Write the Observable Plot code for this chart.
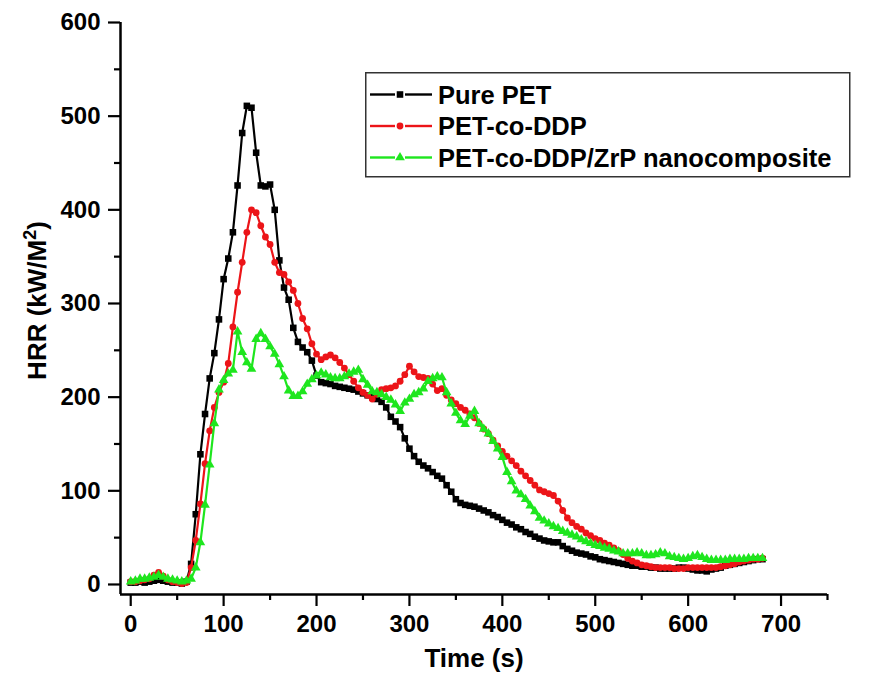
<!DOCTYPE html>
<html>
<head>
<meta charset="utf-8">
<script src="https://cdn.jsdelivr.net/npm/d3@7"></script>
<script src="https://cdn.jsdelivr.net/npm/@observablehq/plot@0.6"></script>
<style>
  html, body { margin: 0; padding: 0; background: white; }
  #wrap { position: relative; width: 885px; height: 675px; font-family: "Liberation Sans", Arial, sans-serif; }
  #legend { position: absolute; left: 365px; top: 72px; }
</style>
</head>
<body>
<div id="wrap"></div>
<script>
// Sample times (s), every 5 s
const time = d3.range(0, 681, 5);

const purePET = [
  2,2,3,2,3,4,5,4,3,2,
  2,1,3,22,75,139,182,220,247,283,
  326,348,376,426,482,511,509,461,426,425,
  427,400,346,317,304,274,259,253,248,239,
  223,216,215,214,212,211,210,209,208,206,
  204,202,200,198,195,189,179,174,168,156,
  145,137,131,127,124,120,116,113,106,99,
  91,87,85,84,83,81,79,77,74,72,
  69,66,64,61,59,56,54,51,49,47,
  46,45,45,41,38,36,34,33,32,30,
  29,27,26,25,24,23,22,21,20,20,
  19,19,18,18,17,17,17,17,18,18,
  17,16,15,15,14,16,17,18,20,21,
  22,23,24,25,26,27,27
];

const petDDP = [
  3,3,4,5,6,10,13,9,5,3,
  2,1,2,18,47,86,129,164,189,205,
  216,236,275,312,344,376,400,397,383,371,
  363,344,333,331,323,314,300,284,273,257,
  246,240,243,245,242,237,231,224,217,210,
  205,202,198,203,208,209,210,212,217,224,
  233,227,222,221,220,214,207,209,202,197,
  193,189,186,182,178,172,166,161,154,148,
  142,137,132,127,121,116,111,106,101,99,
  97,95,89,79,71,66,62,59,55,52,
  49,47,44,42,39,36,32,28,25,23,
  21,20,19,18,18,18,18,17,17,17,
  18,18,18,18,18,18,18,19,20,21,
  22,24,25,26,27,27,28
];

const petDDPZrP = [
  3,4,6,6,7,8,10,8,6,5,
  4,3,4,6,18,45,85,128,172,208,
  218,225,229,270,248,237,230,262,268,262,
  254,246,235,222,207,201,201,206,214,219,
  223,226,224,221,220,220,222,225,227,229,
  219,213,206,205,203,200,197,192,185,194,
  198,203,205,209,217,220,222,221,205,193,
  183,175,171,180,185,172,166,161,153,145,
  136,120,110,100,96,91,84,78,71,68,
  65,62,60,57,55,53,51,48,46,44,
  42,41,39,38,36,35,33,33,33,34,
  33,31,31,32,34,33,30,29,28,27,
  28,30,31,29,27,26,26,26,26,27,
  27,27,27,28,28,28,28
];

const seriesNames = ["Pure PET", "PET-co-DDP", "PET-co-DDP/ZrP nanocomposite"];
const seriesColors = ["#000000", "#ec1418", "#1ee61e"];
const seriesSymbols = ["square", "circle", "triangle"];
const seriesR = [3.7, 3.4, 3.6];

const xTicks = [0, 100, 200, 300, 400, 500, 600, 700];
const xMinor = [50, 150, 250, 350, 450, 550, 650, 750];
const yTicks = [0, 100, 200, 300, 400, 500, 600];
const yMinor = [50, 150, 250, 350, 450, 550];
const xTitle = "Time (s)";
const yTitle = "HRR (kW/M2)";

const xDomain = [-11, 750];
const yDomain = [-10.7, 600];

const allValues = [purePET, petDDP, petDDPZrP];
const rows = allValues.map((vals, i) =>
  vals.map((v, k) => ({t: time[k], v, s: seriesNames[i]})));

const seriesMarks = rows.flatMap((data, i) => [
  Plot.line(data, {x: "t", y: "v", stroke: seriesColors[i], strokeWidth: 2.2}),
  Plot.dot(data, {x: "t", y: "v", symbol: seriesSymbols[i], r: seriesR[i], fill: seriesColors[i], stroke: "none"})
]);

const chart = Plot.plot({
  width: 885,
  height: 675,
  marginLeft: 120,
  marginRight: 58,
  marginTop: 22,
  marginBottom: 81,
  x: {domain: xDomain},
  y: {domain: yDomain},
  style: {
    fontFamily: "'Liberation Sans', Arial, sans-serif",
    fontWeight: "bold",
    fontSize: "24px",
    color: "black",
    background: "white",
    overflow: "visible"
  },
  marks: [
    Plot.axisX({ticks: xTicks, tickSize: 12, tickPadding: 8, strokeWidth: 2.2, fontSize: 24, fontWeight: "bold", label: null}),
    Plot.axisX({ticks: xMinor, tickSize: 6, text: null, strokeWidth: 2.2, label: null}),
    Plot.axisY({ticks: yTicks, tickSize: 12, tickPadding: 8, strokeWidth: 2.2, fontSize: 24, fontWeight: "bold", label: null}),
    Plot.axisY({ticks: yMinor, tickSize: 6, text: null, strokeWidth: 2.2, label: null}),
    Plot.ruleX([xDomain[0]], {strokeWidth: 2.5}),
    Plot.ruleY([yDomain[0]], {strokeWidth: 2.5}),
    ...seriesMarks,
    Plot.text([xTitle], {frameAnchor: "bottom", textAnchor: "middle", dy: 64, fontSize: 26, fontWeight: "bold", lineAnchor: "middle"}),
    Plot.text([yTitle], {frameAnchor: "left", textAnchor: "middle", rotate: -90, dx: -83, dy: -8, fontSize: 26, fontWeight: "bold", lineAnchor: "middle"})
  ]
});

const wrap = document.getElementById("wrap");
wrap.appendChild(chart);

// Superscript the "2" of M2 in the y-axis title
d3.select(chart).selectAll("text").filter(function() { return this.textContent === yTitle; })
  .each(function() {
    const t = d3.select(this);
    t.text(null);
    t.append("tspan").text("HRR (kW/M");
    t.append("tspan").attr("font-size", 18).attr("dy", "-0.55em").text("2");
    t.append("tspan").attr("dy", "0.38em").text(")");
  });

// Legend box
const lg = d3.select(wrap).append("svg")
  .attr("id", "legend")
  .attr("width", 486)
  .attr("height", 106);
lg.append("rect")
  .attr("x", 0.75).attr("y", 0.75)
  .attr("width", 484).attr("height", 104)
  .attr("fill", "white").attr("stroke", "#333").attr("stroke-width", 1.5);
const baselines = [31.5, 63, 94.5];
seriesNames.forEach((name, i) => {
  const by = baselines[i];
  const ly = by - 9;
  const g = lg.append("g");
  g.append("line").attr("x1", 5).attr("x2", 30).attr("y1", ly).attr("y2", ly)
    .attr("stroke", seriesColors[i]).attr("stroke-width", 2.4);
  g.append("line").attr("x1", 40).attr("x2", 67).attr("y1", ly).attr("y2", ly)
    .attr("stroke", seriesColors[i]).attr("stroke-width", 2.4);
  const sym = {square: d3.symbolSquare, circle: d3.symbolCircle, triangle: d3.symbolTriangle}[seriesSymbols[i]];
  g.append("path").attr("d", d3.symbol(sym, Math.PI * seriesR[i] * seriesR[i])())
    .attr("transform", `translate(35,${ly})`).attr("fill", seriesColors[i]);
  g.append("text").attr("x", 73).attr("y", by)
    .attr("font-family", "'Liberation Sans', Arial, sans-serif")
    .attr("font-weight", "bold").attr("font-size", 25.5)
    .text(name);
});
</script>
</body>
</html>
